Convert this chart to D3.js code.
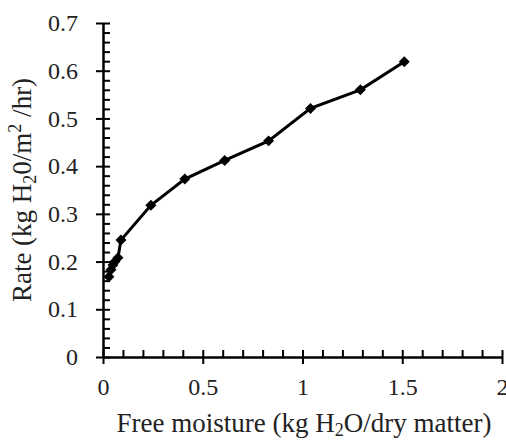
<!DOCTYPE html>
<html>
<head>
<meta charset="utf-8">
<script src="https://cdn.jsdelivr.net/npm/d3@7"></script>
<style>
  body { margin: 0; background: #fff; }
  .axis path, .axis line { stroke: #000; stroke-width: 2px; }
  .axis text { font-family: "Liberation Serif", "Times New Roman", serif; font-size: 24px; fill: #222; }
  .title { font-family: "Liberation Serif", "Times New Roman", serif; font-size: 27px; fill: #222; }
</style>
</head>
<body>
<script>
// drying data: free moisture vs rate
var moisture = [0.03, 0.04, 0.05, 0.06, 0.075, 0.09, 0.24, 0.41, 0.61, 0.83, 1.04, 1.29, 1.51];
var rate     = [0.168, 0.183, 0.193, 0.200, 0.208, 0.245, 0.318, 0.373, 0.412, 0.453, 0.521, 0.560, 0.619];

var xMajor = [0, 0.5, 1, 1.5, 2];
var yMajor = [0, 0.1, 0.2, 0.3, 0.4, 0.5, 0.6, 0.7];
var xMinor = d3.range(0, 21).map(function(i) { return i / 10; });
var yMinor = d3.range(0, 36).map(function(i) { return i / 50; });

var margin = {top: 23, right: 4, bottom: 83, left: 103},
    width = 502 - margin.left,
    height = 357 - margin.top;

var svg = d3.select("body").append("svg")
    .attr("width", 506)
    .attr("height", 440);

var g = svg.append("g")
    .attr("transform", "translate(" + margin.left + "," + margin.top + ")");

var x = d3.scaleLinear().domain([0, 2]).range([0, width]);
var y = d3.scaleLinear().domain([0, 0.7]).range([height, 0]);

// minor ticks (inside)
g.append("g")
    .attr("class", "axis")
    .attr("transform", "translate(0," + height + ")")
    .call(d3.axisTop(x).tickValues(xMinor).tickSize(7).tickSizeOuter(0).tickFormat(""));
g.append("g")
    .attr("class", "axis")
    .call(d3.axisRight(y).tickValues(yMinor).tickSize(7).tickSizeOuter(0).tickFormat(""));

// major ticks (outside) with labels
g.append("g")
    .attr("class", "axis")
    .attr("transform", "translate(0," + height + ")")
    .call(d3.axisBottom(x).tickValues(xMajor).tickSize(7).tickSizeOuter(0).tickPadding(14)
        .tickFormat(function(d) { return d; }));
g.append("g")
    .attr("class", "axis")
    .call(d3.axisLeft(y).tickValues(yMajor).tickSize(7).tickSizeOuter(0).tickPadding(18)
        .tickFormat(function(d) { return d; }));

// series line
var pts = moisture.map(function(m, i) { return [m, rate[i]]; });
var line = d3.line()
    .x(function(d) { return x(d[0]); })
    .y(function(d) { return y(d[1]); });

g.append("path")
    .attr("d", line(pts))
    .attr("fill", "none")
    .attr("stroke", "#000")
    .attr("stroke-width", 3);

// diamond markers
g.selectAll(".pt")
    .data(pts)
  .enter().append("path")
    .attr("class", "pt")
    .attr("d", d3.symbol().type(d3.symbolSquare).size(60))
    .attr("transform", function(d) { return "translate(" + x(d[0]) + "," + y(d[1]) + ") rotate(45)"; })
    .attr("fill", "#000");

// x title
var xt = svg.append("text")
    .attr("class", "title")
    .attr("x", 304)
    .attr("y", 432)
    .attr("text-anchor", "middle");
xt.append("tspan").text("Free moisture (kg H");
xt.append("tspan").attr("font-size", "18px").attr("dy", 4).text("2");
xt.append("tspan").attr("dy", -4).text("O/dry matter)");

// y title
var yt = svg.append("text")
    .attr("class", "title")
    .attr("transform", "translate(31,190) rotate(-90)")
    .attr("text-anchor", "middle");
yt.append("tspan").text("Rate (kg H");
yt.append("tspan").attr("font-size", "18px").attr("dy", 5).text("2");
yt.append("tspan").attr("dy", -5).text("0/m");
yt.append("tspan").attr("font-size", "18px").attr("dy", -10).text("2");
yt.append("tspan").attr("dy", 10).text(" /hr)");
</script>
</body>
</html>
